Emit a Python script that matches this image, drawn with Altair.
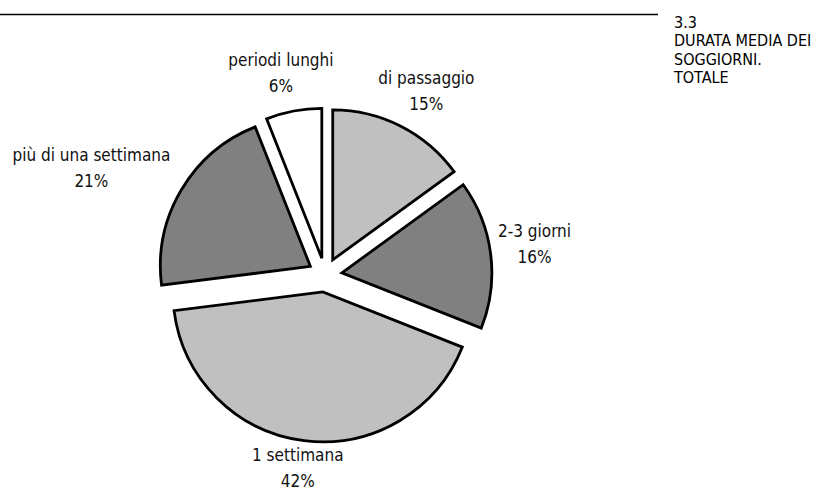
import math
import altair as alt
import pandas as pd

# Average length of stay, share of total (%)
categories = ["di passaggio", "2-3 giorni", "1 settimana", "più di una settimana", "periodi lunghi"]
shares = [15, 16, 42, 21, 6]
fills = ["#c0c0c0", "#808080", "#c0c0c0", "#808080", "#ffffff"]

heading = ["3.3", "DURATA MEDIA DEI", "SOGGIORNI.", "TOTALE"]

W, H = 825, 498
CX, CY = 325, 275        # pie centre
RADIUS = 150
EXPLODE = 17             # distance each slice is pulled out
LABEL_R = 200            # label distance from centre
FONT = "DejaVu Sans Condensed, Liberation Sans, sans-serif"

total = sum(shares)
rows = []
acc = 0.0
for cat, val in zip(categories, shares):
    t0 = 2 * math.pi * acc / total
    acc += val
    t1 = 2 * math.pi * acc / total
    mid = (t0 + t1) / 2
    s, c = math.sin(mid), math.cos(mid)
    label = f"{cat}\n{val}%"
    half_w = len(cat) * 4.3
    extra = max(0.0, half_w - 35) * 1.4
    rows.append({
        "cat": cat,
        "t0": t0,
        "t1": t1,
        "ax": CX + EXPLODE * s,
        "ay": CY - EXPLODE * c,
        "lx": CX + s * (LABEL_R + extra),
        "ly": CY - c * LABEL_R - 12.5,
        "label": label,
    })
df = pd.DataFrame(rows)

base = alt.Chart(df)

slices = base.mark_arc(
    radius=RADIUS, stroke="black", strokeWidth=2.8, strokeJoin="miter"
).encode(
    x=alt.X("ax:Q", scale=None, axis=None),
    y=alt.Y("ay:Q", scale=None, axis=None),
    theta=alt.Theta("t0:Q", scale=None),
    theta2="t1:Q",
    color=alt.Color("cat:N", scale=alt.Scale(domain=categories, range=fills), legend=None),
)

labels = base.mark_text(
    font=FONT, fontSize=17, align="center", baseline="alphabetic",
    lineBreak="\n", lineHeight=26, color="#111111",
).encode(
    x=alt.X("lx:Q", scale=None, axis=None),
    y=alt.Y("ly:Q", scale=None, axis=None),
    text="label:N",
)

rule = alt.Chart(pd.DataFrame({"k": [0]})).mark_rule(
    color="black", strokeWidth=1.3
).encode(
    x=alt.value(0), x2=alt.value(658), y=alt.value(14.5)
)

title = alt.Chart(pd.DataFrame({"t": ["\n".join(heading)]})).mark_text(
    font=FONT, fontSize=16, align="left", baseline="alphabetic",
    lineBreak="\n", lineHeight=18.3, color="black",
).encode(
    x=alt.value(674), y=alt.value(28), text="t:N"
)

chart = alt.layer(slices, labels, rule, title).properties(
    width=W, height=H, autosize="none", padding=0
).configure_view(stroke=None)

chart.save("out.html", embed_options={"renderer": "svg", "actions": False})
